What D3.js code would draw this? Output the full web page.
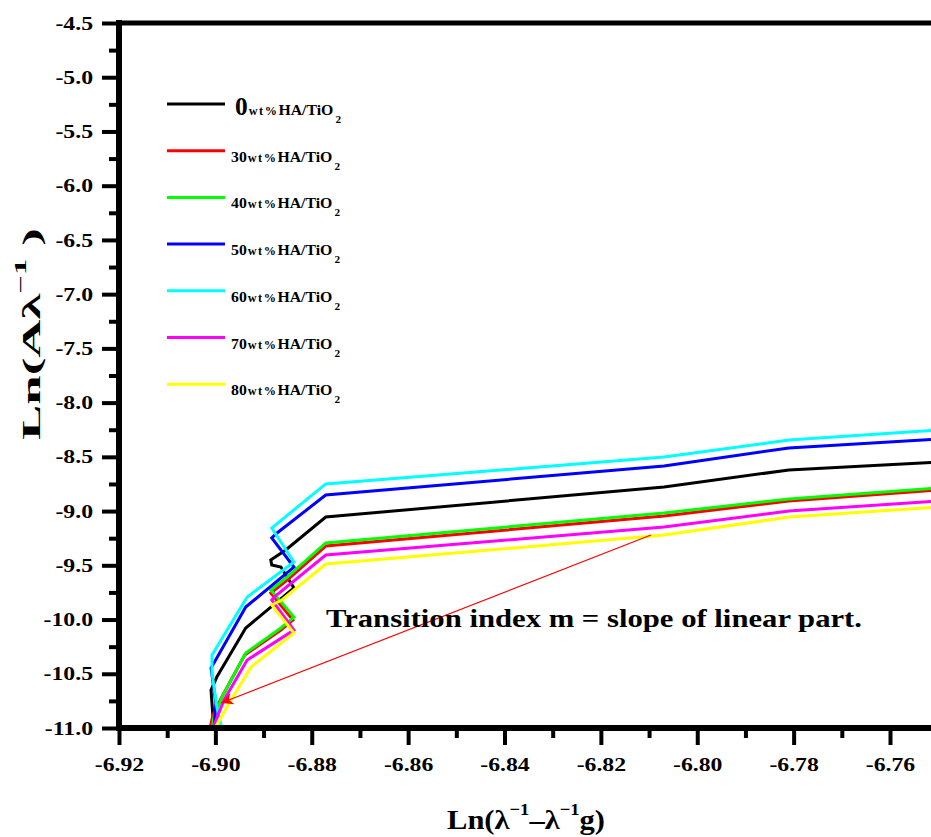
<!DOCTYPE html>
<html>
<head>
<meta charset="utf-8">
<script src="https://cdn.jsdelivr.net/npm/d3@7"></script>
<style>
  body { margin: 0; background: #fff; }
  svg { display: block; }
  text { font-family: "Liberation Serif", "Times New Roman", serif; font-weight: bold; fill: #000; }
</style>
</head>
<body>
<svg id="chart" width="931" height="837"></svg>
<script>
// series values (x = Ln(1/l - 1/lg), y = Ln(A/l))
var x0  = [-6.9003, -6.9009, -6.8997, -6.8937, -6.8837, -6.8864, -6.8883, -6.8885, -6.8854, -6.8771, -6.8069, -6.7810, -6.75];
var y0  = [-11.019, -10.650, -10.530, -10.078, -9.709, -9.516, -9.497, -9.451, -9.359, -9.055, -8.778, -8.621, -8.548];
var x30 = [-6.9011, -6.9005, -6.8988, -6.8939, -6.8864, -6.8839, -6.8885, -6.8851, -6.8771, -6.8069, -6.7810, -6.75];
var y30 = [-11.0, -10.880, -10.724, -10.327, -10.097, -10.004, -9.755, -9.636, -9.322, -9.045, -8.907, -8.806];
var x40 = [-6.9007, -6.9003, -6.8986, -6.8937, -6.8864, -6.8837, -6.8885, -6.8851, -6.8771, -6.8069, -6.7810, -6.75];
var y40 = [-11.019, -10.899, -10.714, -10.309, -10.078, -9.977, -9.728, -9.608, -9.294, -9.018, -8.889, -8.787];
var x50 = [-6.9003, -6.8999, -6.9009, -6.9003, -6.8937, -6.8837, -6.8883, -6.8872, -6.8771, -6.8069, -6.7810, -6.75];
var y50 = [-11.019, -10.770, -10.447, -10.401, -9.885, -9.516, -9.248, -9.202, -8.852, -8.584, -8.418, -8.336];
var x60 = [-6.8986, -6.8997, -6.9007, -6.9007, -6.8934, -6.8837, -6.8883, -6.8771, -6.8069, -6.7810, -6.75];
var y60 = [-11.019, -10.807, -10.493, -10.327, -9.792, -9.470, -9.156, -8.750, -8.501, -8.345, -8.253];
var x70 = [-6.9007, -6.8982, -6.8934, -6.8837, -6.8883, -6.8878, -6.8771, -6.8069, -6.7810, -6.75];
var y70 = [-11.019, -10.742, -10.373, -10.097, -9.820, -9.792, -9.405, -9.147, -8.999, -8.907];
var x80 = [-6.9003, -6.8976, -6.8926, -6.8837, -6.8883, -6.8862, -6.8771, -6.8069, -6.7810, -6.75];
var y80 = [-11.019, -10.807, -10.438, -10.124, -9.866, -9.820, -9.488, -9.221, -9.055, -8.962];

var seriesNames = ["0", "30", "40", "50", "60", "70", "80"];
var seriesColors = ["#000000", "#ff0000", "#00ff00", "#0000ff", "#00ffff", "#ff00ff", "#ffff00"];
var seriesX = [x0, x30, x40, x50, x60, x70, x80];
var seriesY = [y0, y30, y40, y50, y60, y70, y80];

var xMajor = [-6.92, -6.90, -6.88, -6.86, -6.84, -6.82, -6.80, -6.78, -6.76];
var xTickLabels = ["-6.92", "-6.90", "-6.88", "-6.86", "-6.84", "-6.82", "-6.80", "-6.78", "-6.76"];
var xMinor = [-6.91, -6.89, -6.87, -6.85, -6.83, -6.81, -6.79, -6.77, -6.75];
var yMajor = [-11.0, -10.5, -10.0, -9.5, -9.0, -8.5, -8.0, -7.5, -7.0, -6.5, -6.0, -5.5, -5.0, -4.5];
var yTickLabels = ["-11.0", "-10.5", "-10.0", "-9.5", "-9.0", "-8.5", "-8.0", "-7.5", "-7.0", "-6.5", "-6.0", "-5.5", "-5.0", "-4.5"];
var yMinor = [-10.75, -10.25, -9.75, -9.25, -8.75, -8.25, -7.75, -7.25, -6.75, -6.25, -5.75, -5.25, -4.75];

// annotation arrow: start, tip
var arrowX = [-6.8096, -6.8988];
var arrowY = [-9.221, -10.770];

var W = 931, H = 837;
var STRETCH = 1.25;   // the original's lettering is drawn wide
var svg = d3.select("#chart");

var x = d3.scaleLinear().domain([-6.92, -6.76]).range([119, 890]);
var y = d3.scaleLinear().domain([-11, -4.5]).range([728, 23]);

function widen(sel, k) {
  sel.each(function() {
    var len = this.getComputedTextLength();
    d3.select(this).attr("textLength", len * k).attr("lengthAdjust", "spacingAndGlyphs");
  });
}

// CURVES
var line = d3.line()
    .x(function(d) { return x(d[0]); })
    .y(function(d) { return y(d[1]); });

var curves = svg.append("g").attr("id", "curves");
seriesNames.forEach(function(name, i) {
  var pts = seriesX[i].map(function(v, j) { return [v, seriesY[i][j]]; });
  curves.append("path")
      .datum(pts)
      .attr("d", line)
      .attr("fill", "none")
      .attr("stroke", seriesColors[i])
      .attr("stroke-width", 3)
      .attr("stroke-linejoin", "miter");
});

// AXES
function styleTicks(g, width) {
  g.select(".domain").remove();
  g.selectAll(".tick line").attr("stroke", "#000").attr("stroke-width", width);
}

var xAxis = svg.append("g")
    .attr("transform", "translate(0," + y(-11) + ")")
    .call(d3.axisBottom(x).tickValues(xMajor).tickSize(17).tickPadding(13)
      .tickFormat(function(d, i) { return xTickLabels[i]; }));
styleTicks(xAxis, 4);

svg.append("g")
    .attr("transform", "translate(0," + y(-11) + ")")
    .call(d3.axisBottom(x).tickValues(xMinor).tickSize(10).tickFormat(""))
    .call(function(g) { styleTicks(g, 4); });

var yAxis = svg.append("g")
    .attr("transform", "translate(" + x(-6.92) + ",0)")
    .call(d3.axisLeft(y).tickValues(yMajor).tickSize(17).tickPadding(9)
      .tickFormat(function(d, i) { return yTickLabels[i]; }));
styleTicks(yAxis, 4);

svg.append("g")
    .attr("transform", "translate(" + x(-6.92) + ",0)")
    .call(d3.axisLeft(y).tickValues(yMinor).tickSize(10).tickFormat(""))
    .call(function(g) { styleTicks(g, 4); });

[xAxis, yAxis].forEach(function(g) {
  var t = g.selectAll(".tick text")
      .attr("fill", "#000")
      .style("font-family", "'Liberation Serif', 'Times New Roman', serif")
      .style("font-weight", "bold")
      .style("font-size", "19px");
  widen(t, STRETCH);
});

// frame lines (left, bottom, top)
var frame = svg.append("g").attr("stroke", "#000").attr("stroke-width", 6);
frame.append("line")
    .attr("x1", x(-6.92)).attr("x2", x(-6.92))
    .attr("y1", y(-4.5) - 3).attr("y2", y(-11) + 3);
frame.append("line")
    .attr("x1", x(-6.92) - 3).attr("x2", W)
    .attr("y1", y(-11)).attr("y2", y(-11));
frame.append("line")
    .attr("x1", x(-6.92)).attr("x2", W)
    .attr("y1", y(-4.5)).attr("y2", y(-4.5))
    .attr("stroke-width", 5);

// LEGEND
var legend = svg.append("g").attr("id", "legend");
var entryHeight = 46.7;
seriesNames.forEach(function(name, i) {
  var ly = 104 + i * entryHeight;
  legend.append("line")
      .attr("x1", 167).attr("x2", 225)
      .attr("y1", ly).attr("y2", ly)
      .attr("stroke", seriesColors[i])
      .attr("stroke-width", 3);
  var t = legend.append("text")
      .attr("x", i === 0 ? 235 : 231)
      .attr("y", ly + 11);
  t.append("tspan").attr("font-size", i === 0 ? 25 : 15.5).text(name);
  t.append("tspan").attr("font-size", 12).attr("letter-spacing", 1.5).attr("dx", 1).text("wt%");
  t.append("tspan").attr("font-size", 15.5).text("HA/TiO");
  t.append("tspan").attr("font-size", 11).attr("dy", 8).attr("dx", 2).text("2");
  t.attr("textLength", i === 0 ? 106 : 109).attr("lengthAdjust", "spacingAndGlyphs");
});

// ANNOTATION
var defs = svg.append("defs");
defs.append("marker")
    .attr("id", "head")
    .attr("viewBox", "0 0 10 10")
    .attr("refX", 10).attr("refY", 5)
    .attr("markerWidth", 18).attr("markerHeight", 12)
    .attr("markerUnits", "userSpaceOnUse")
    .attr("orient", "auto")
  .append("path")
    .attr("d", "M0,0 L10,5 L0,10 L3,5 Z")
    .attr("fill", "#ff0000");

svg.append("line")
    .attr("x1", x(arrowX[0])).attr("y1", y(arrowY[0]))
    .attr("x2", x(arrowX[1])).attr("y2", y(arrowY[1]))
    .attr("stroke", "#ff0000")
    .attr("stroke-width", 1.2)
    .attr("marker-end", "url(#head)");

svg.append("text")
    .attr("x", 326).attr("y", 627)
    .attr("font-size", 26)
    .attr("textLength", 536)
    .attr("lengthAdjust", "spacingAndGlyphs")
    .text("Transition index m = slope of linear part.");

// AXIS TITLES
var yt = svg.append("text")
    .attr("transform", "translate(40,334) rotate(-90)")
    .attr("text-anchor", "middle")
    .attr("font-size", 26);
yt.append("tspan").text("Ln(A\u03bb");
yt.append("tspan").attr("font-size", 16).attr("dy", -14).text("\u22121");
yt.append("tspan").attr("dy", 14).text("  )");
yt.attr("textLength", 212).attr("lengthAdjust", "spacingAndGlyphs");

var xt = svg.append("text")
    .attr("x", 526).attr("y", 829)
    .attr("text-anchor", "middle")
    .attr("font-size", 28);
xt.append("tspan").text("Ln(\u03bb");
xt.append("tspan").attr("font-size", 17).attr("dy", -14).text("\u22121");
xt.append("tspan").attr("dy", 14).text("\u2013\u03bb");
xt.append("tspan").attr("font-size", 17).attr("dy", -14).text("\u22121");
xt.append("tspan").attr("dy", 14).text("g)");
xt.attr("textLength", 158).attr("lengthAdjust", "spacingAndGlyphs");
</script>
</body>
</html>
